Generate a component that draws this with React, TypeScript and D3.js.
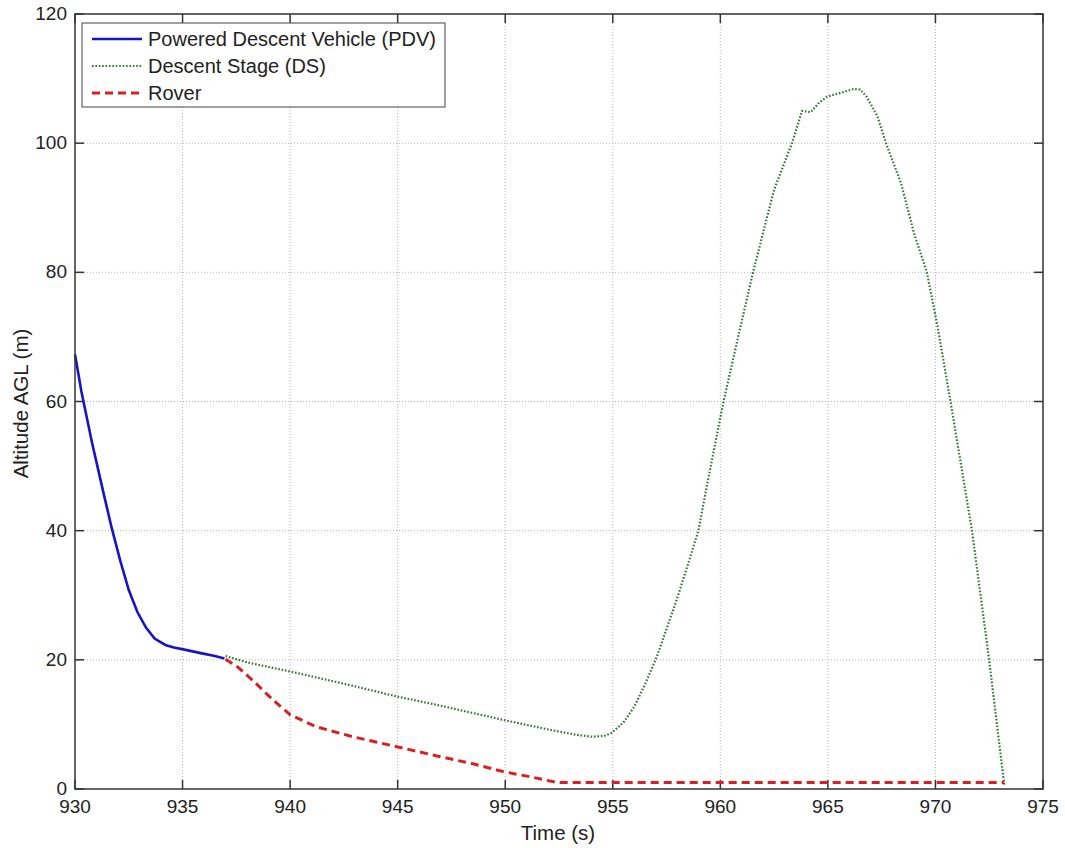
import React from "react";
import * as d3 from "d3";

const xTicks = [930, 935, 940, 945, 950, 955, 960, 965, 970, 975];
const yTicks = [0, 20, 40, 60, 80, 100, 120];

const pdvT = [930, 930.3, 930.8, 931.3, 931.7, 932.1, 932.5, 932.9, 933.3, 933.7, 934.2, 934.6, 935.2, 935.9, 936.5, 936.95];
const pdvH = [67.3, 61.5, 53.5, 46.2, 40.5, 35.4, 30.8, 27.4, 25.0, 23.3, 22.3, 21.9, 21.5, 21.0, 20.6, 20.2];

const dsT = [937.0, 938.0, 940.0, 942.5, 945.0, 947.0, 949.9, 952.1, 953.3, 954.0, 954.6, 954.95, 955.5, 956.0, 956.5, 957.05, 957.5, 957.97, 958.45, 958.98, 959.4, 960.15, 960.8, 961.52, 962.5, 963.33, 963.8, 964.2, 964.6, 964.96, 965.6, 966.2, 966.5, 966.8, 967.3, 967.7, 968.4, 969.0, 969.6, 970.1, 970.7, 971.7, 972.5, 973.2];
const dsH = [20.6, 19.6, 18.2, 16.3, 14.3, 12.9, 10.7, 9.15, 8.4, 8.1, 8.2, 8.7, 10.3, 12.75, 16.2, 20.5, 24.8, 29.3, 34.3, 40, 47.4, 60, 69.6, 80, 92.8, 100, 105.0, 104.8, 106.3, 107.2, 107.8, 108.4, 108.3, 107.2, 104.2, 100, 93.8, 86.1, 80, 71.6, 60, 40, 19.9, 0.6];

const roverT = [937.0, 937.6, 938.4, 939.2, 940.0, 941.2, 942.9, 944.96, 946.98, 948.5, 949.9, 951.3, 952.4, 953.0, 960.0, 973.2];
const roverH = [20.1, 18.8, 16.4, 13.8, 11.5, 9.65, 8.1, 6.55, 5.0, 3.9, 2.7, 1.8, 1.0, 1.0, 1.0, 1.0];

const legendLabels = ["Powered Descent Vehicle (PDV)", "Descent Stage (DS)", "Rover"];

const BLUE = "#1414c8";
const GREEN = "#2e7a2e";
const RED = "#da1f1f";

export default function App() {
  const left = 75, right = 1043, top = 14, bottom = 789;
  const x = d3.scaleLinear().domain([930, 975]).range([left, right]);
  const y = d3.scaleLinear().domain([0, 120]).range([bottom, top]);
  const line = d3.line<[number, number]>().x((d) => x(d[0])).y((d) => y(d[1]));
  const zip = (a: number[], b: number[]) => a.map((v, i) => [v, b[i]] as [number, number]);
  const font = "'Liberation Sans', Arial, Helvetica, sans-serif";
  const tickLen = 9;
  const tickFs = 19;

  const styles = [
    { color: BLUE, width: 2.6, dash: "none" },
    { color: GREEN, width: 2.2, dash: "1.6 1.8" },
    { color: RED, width: 3, dash: "8 5" },
  ];

  return (
    <svg width={1065} height={848} style={{ position: "absolute", left: 0, top: 0, background: "#fff" }}>
      <rect x={0} y={0} width={1065} height={848} fill="#fff" />
      {xTicks.slice(1, -1).map((t) => (
        <line key={"gx" + t} x1={x(t)} x2={x(t)} y1={top} y2={bottom} stroke="#b5b5b5" strokeWidth={1} strokeDasharray="1 2" />
      ))}
      {yTicks.slice(1, -1).map((t) => (
        <line key={"gy" + t} x1={left} x2={right} y1={y(t)} y2={y(t)} stroke="#b5b5b5" strokeWidth={1} strokeDasharray="1 2" />
      ))}
      {xTicks.map((t) => (
        <g key={"tx" + t}>
          <line x1={x(t)} x2={x(t)} y1={bottom} y2={bottom - tickLen} stroke="#333" strokeWidth={1.5} />
          <line x1={x(t)} x2={x(t)} y1={top} y2={top + tickLen} stroke="#333" strokeWidth={1.5} />
          <text x={x(t)} y={bottom + 24} textAnchor="middle" fontFamily={font} fontSize={tickFs} fill="#222">{t}</text>
        </g>
      ))}
      {yTicks.map((t) => (
        <g key={"ty" + t}>
          <line x1={left} x2={left + tickLen} y1={y(t)} y2={y(t)} stroke="#333" strokeWidth={1.5} />
          <line x1={right} x2={right - tickLen} y1={y(t)} y2={y(t)} stroke="#333" strokeWidth={1.5} />
          <text x={left - 8} y={y(t) + 6} textAnchor="end" fontFamily={font} fontSize={tickFs} fill="#222">{t}</text>
        </g>
      ))}
      <path d={line(zip(dsT, dsH)) || ""} fill="none" stroke={GREEN} strokeWidth={2.2} strokeDasharray="1.6 1.8" />
      <path d={line(zip(roverT, roverH)) || ""} fill="none" stroke={RED} strokeWidth={3} strokeDasharray="8 5" />
      <path d={line(zip(pdvT, pdvH)) || ""} fill="none" stroke={BLUE} strokeWidth={2.6} />
      <rect x={left} y={top} width={right - left} height={bottom - top} fill="none" stroke="#333" strokeWidth={1.5} />
      <rect x={82} y={23} width={363} height={84} fill="#fff" stroke="#444" strokeWidth={1} />
      {legendLabels.map((lab, i) => {
        const by = 46 + i * 27;
        const s = styles[i];
        return (
          <g key={lab}>
            <line x1={92} x2={142} y1={by - 7} y2={by - 7} stroke={s.color} strokeWidth={s.width} strokeDasharray={s.dash} />
            <text x={148} y={by} fontFamily={font} fontSize={20} fill="#222">{lab}</text>
          </g>
        );
      })}
      <text x={558} y={840} textAnchor="middle" fontFamily={font} fontSize={20.5} fill="#222">Time (s)</text>
      <text transform={`translate(28, ${(top + bottom) / 2 + 2}) rotate(-90)`} textAnchor="middle" fontFamily={font} fontSize={20.5} fill="#222">Altitude AGL (m)</text>
    </svg>
  );
}
